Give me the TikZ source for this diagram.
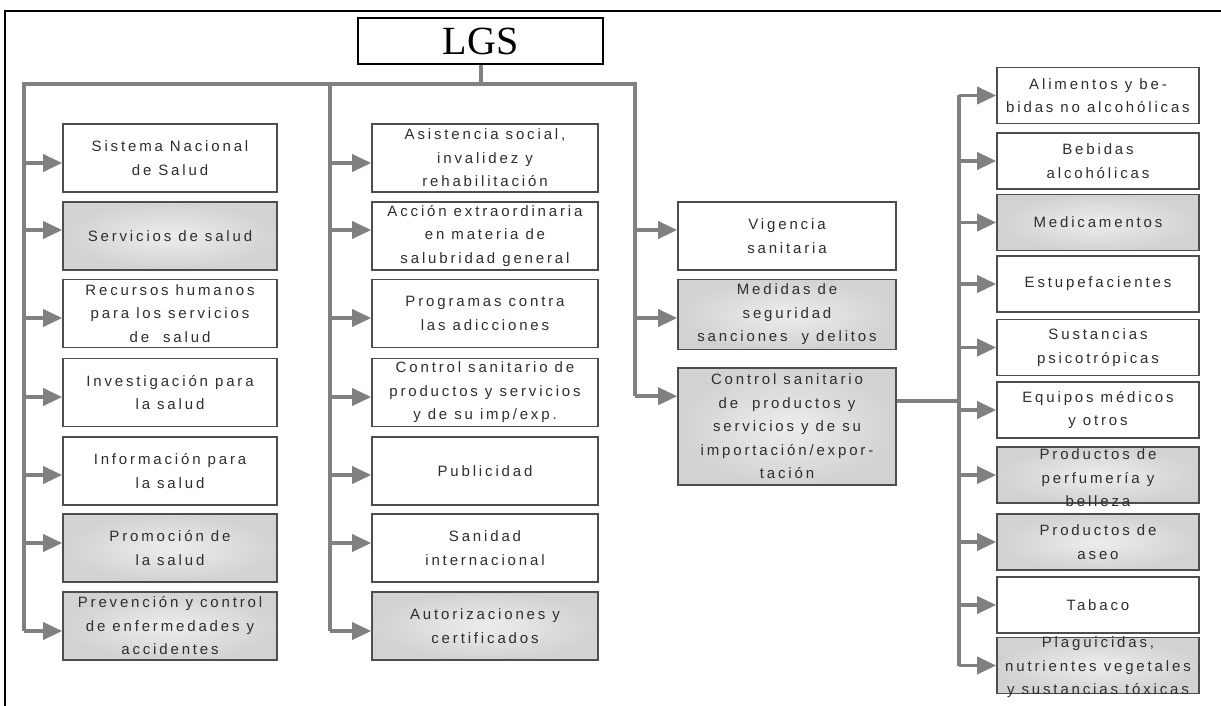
\documentclass[tikz,border=0pt]{standalone}
\usepackage{fontspec}
\setmainfont{Liberation Sans}
\newfontfamily\boxfont{Liberation Sans}[LetterSpace=19]
\newfontfamily\lgsfont{Liberation Serif}
\usetikzlibrary{arrows.meta,calc}
\definecolor{boxc}{HTML}{4D4D4D}
\definecolor{txtc}{HTML}{2E2E2E}
\definecolor{connc}{HTML}{808080}
\definecolor{gin}{HTML}{EDEDED}
\definecolor{gout}{HTML}{D2D2D2}
\begin{document}
\begin{tikzpicture}[x=1pt,y=-1pt,
  box/.style={draw=boxc,line width=1.6pt,fill=white,inner sep=0pt,align=center,text=txtc,font=\boxfont\fontsize{15pt}{23.5pt}\selectfont},
  gbox/.style={box,inner color=gin,outer color=gout},
  txt/.style={inner sep=0pt,align=center,text=txtc,font=\boxfont\fontsize{15pt}{23.5pt}\selectfont},
  lsz/.style={minimum width=214pt,minimum height=68pt},
  msz/.style={minimum width=226pt,minimum height=68pt},
  rsz/.style={minimum width=218pt},
  fsz/.style={minimum width=202pt,minimum height=56pt},
  conn/.style={draw=connc,line width=4pt,line join=miter},
  arr/.style={draw=connc,line width=3.5pt,-{Triangle[length=19pt,width=17pt]}}
]
\useasboundingbox (0,0) rectangle (1221,706);
% frame
\draw[line width=1.4pt] (1221,11) -- (5,11) -- (5,706);

% root
\node[draw=black,line width=1.6pt,fill=white,minimum width=245pt,minimum height=46pt,inner sep=0pt,
  font=\lgsfont\fontsize{40pt}{42pt}\selectfont] (lgs) at (480.5,41) {LGS};

% left column
\node[box,lsz]  (l1) at (170,158)   {Sistema Nacional\\de Salud};
\node[gbox,lsz] (l2) at (170,236)   {Servicios de salud};
\node[box,lsz]  (l3) at (170,313.5) {Recursos humanos\\para los servicios\\de\ \ salud};
\node[box,lsz]  (l4) at (170,392.5) {Investigación para\\la salud};
\node[box,lsz]  (l5) at (170,471)   {Información para\\la salud};
\node[gbox,lsz] (l6) at (170,548)   {Promoción de\\la salud};
\node[gbox,lsz] (l7) at (170,626)   {Prevención y control\\de enfermedades y\\accidentes};

% middle column
\node[box,msz]  (m1) at (485,158)   {Asistencia social,\\invalidez y\\rehabilitación};
\node[box,msz]  (m2) at (485,236)   {Acción extraordinaria\\en materia de\\salubridad general};
\node[box,msz]  (m3) at (485,313.5) {Programas contra\\las adicciones};
\node[box,msz]  (m4) at (485,392.5) {Control sanitario de\\productos y servicios\\y de su imp/exp.};
\node[box,msz]  (m5) at (485,471)   {Publicidad};
\node[box,msz]  (m6) at (485,548)   {Sanidad\\internacional};
\node[gbox,msz] (m7) at (485,626)   {Autorizaciones y\\certificados};

% right column
\node[box,rsz,minimum height=68pt]  (r1) at (787,236)   {Vigencia\\sanitaria};
\node[gbox,rsz,minimum height=70pt] (r2) at (787,314.5) {Medidas de\\seguridad\\sanciones\ \ y delitos};
\node[gbox,rsz,minimum height=117pt] (r3) at (787,426.5) {Control sanitario\\de\ \ productos y\\servicios y de su\\importación/expor-\\tación};

% far right column
\node[box,fsz]  (f1)  at (1098,95.5)  {Alimentos y be-\\bidas no alcohólicas};
\node[box,fsz]  (f2)  at (1098,161)   {Bebidas\\alcohólicas};
\node[gbox,fsz] (f3)  at (1098,222.5) {Medicamentos};
\node[box,fsz]  (f4)  at (1098,284)   {Estupefacientes};
\node[box,fsz]  (f5)  at (1098,347.5) {Sustancias\\psicotrópicas};
\node[box,fsz]  (f6)  at (1098,410)   {Equipos médicos\\y otros};
\node[gbox,fsz] (f7)  at (1098,475)   {};
\node[txt,anchor=north] (f7t) at ($(f7.north)+(0,2.5)$) {Productos de\\perfumería y\\belleza};
\node[gbox,fsz] (f8)  at (1098,542)   {Productos de\\aseo};
\node[box,fsz]  (f9)  at (1098,605)   {Tabaco};
\node[gbox,fsz] (f10) at (1098,665.5) {};
\node[txt,anchor=north] (f10t) at ($(f10.north)+(0,0)$) {Plaguicidas,\\nutrientes vegetales\\y sustancias tóxicas};

% connectors
\coordinate (bL) at (24,84);
\coordinate (bM) at (330,84);
\coordinate (bR) at (635,84);
\coordinate (r3in) at ($(r3.north west)+(0,29)$);
\coordinate (r3out) at ($(r3.north east)+(0,34)$);
\coordinate (bF) at (959,402);

\draw[conn] (lgs.south) -- (lgs.south |- bM);
\draw[conn] ($(l7.west -| bL)+(0,5)$) -- (bL) -- (bR) -- (r3in -| bR);
\draw[conn] (bM) -- ($(m7.west -| bM)+(0,5)$);
\draw[conn] (r3out) -- (r3out -| bF);
\draw[conn] (f1.west -| bF) -- (f10.west -| bF);

\foreach \n/\dy in {1/5,2/-6,3/4.5,4/4.5,5/4,6/-5,7/5}{
  \draw[arr] ($(l\n.west -| bL)+(0,\dy)$) -- ($(l\n.west)+(0,\dy)$);
  \draw[arr] ($(m\n.west -| bM)+(0,\dy)$) -- ($(m\n.west)+(0,\dy)$);
}
\draw[arr] ($(r1.west -| bR)+(0,-6)$) -- ($(r1.west)+(0,-6)$);
\draw[arr] ($(r2.west -| bR)+(0,3.5)$) -- ($(r2.west)+(0,3.5)$);
\draw[arr] (r3in -| bR) -- (r3in);
\foreach \n in {f1,f2,f3,f4,f5,f6,f7,f8,f9,f10}{\draw[arr] (\n.west -| bF) -- (\n.west);}
\end{tikzpicture}
\end{document}
